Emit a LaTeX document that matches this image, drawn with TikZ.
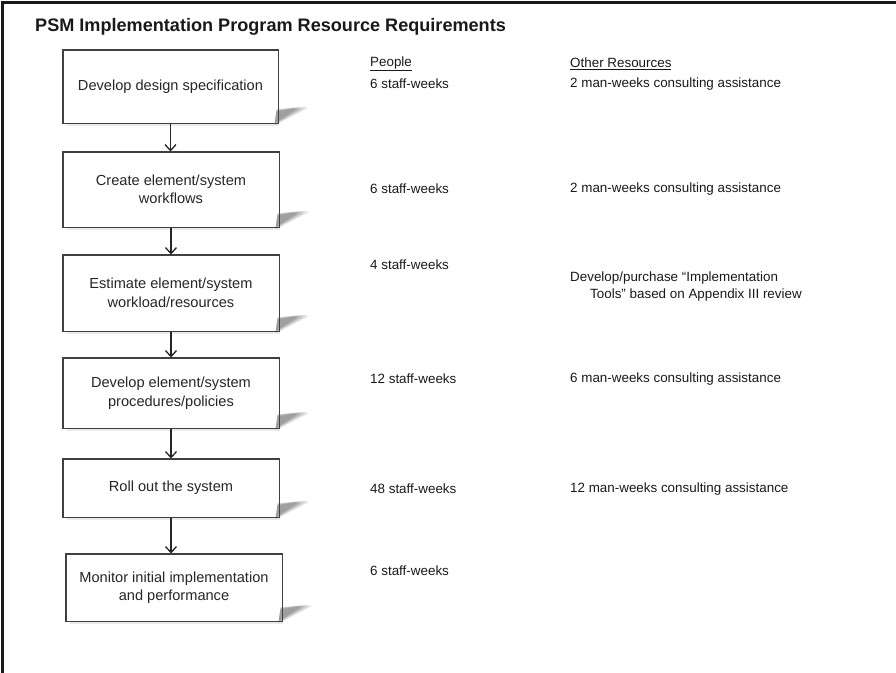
\documentclass[tikz,border=0pt]{standalone}
\usepackage{fontspec}
\setmainfont{Liberation Sans}
\usetikzlibrary{arrows.meta}
\tikzset{
  stepbox/.style={draw=black!75, line width=1pt, fill=white, text=black!85,
    align=center, font=\fontsize{14.6}{18.5}\selectfont, inner sep=0pt},
  flow/.style={draw=black!85, line width=1.4pt, -{Straight Barb[length=6pt,width=11pt,line width=1.3pt]}},
  coltext/.style={anchor=west, text=black!90, font=\fontsize{13.4}{17}\selectfont, inner sep=0pt},
}
% soft drop shadow at the lower right of a box, built from stacked translucent wedges
\newcommand{\boxshadow}[1]{%
  \foreach \k/\g in {0/0.08,1/0.08,2/0.09,3/0.10,4/0.10}{
    \path[fill=black, opacity=\g]
      ([xshift=-4pt,yshift=-1pt]#1.south east)
      -- ([xshift=-2pt,yshift={12pt+0.6pt*\k}]#1.south east)
      -- ([xshift={27pt-3pt*\k},yshift={17pt-0.3pt*\k}]#1.south east)
      -- ([xshift={29pt-3pt*\k},yshift={15pt-0.3pt*\k}]#1.south east)
      -- ([xshift=-2pt,yshift={-1pt+0.6pt*\k}]#1.south east) -- cycle;
  }
  \path[fill=black, opacity=0.08] ([xshift=4pt]#1.south west) rectangle ([yshift=-2.5pt]#1.south east);
}
\begin{document}
\begin{tikzpicture}[x=1pt,y=-1pt]
\useasboundingbox (0,0) rectangle (896,672);
\begin{scope}
\clip (0,0) rectangle (896,672);
\draw[line width=2.5pt, black!90] (2.5,700) -- (2.5,2.5) -- (910,2.5);
\end{scope}

\node[anchor=west, inner sep=0pt, font=\bfseries\fontsize{18.1}{21}\selectfont, text=black!90] (title) at (35,27)
  {PSM Implementation Program Resource Requirements};

% flow boxes
\node[stepbox, minimum width=215pt, minimum height=73pt] (s1) at (170.5,86.5) {Develop design specification};
\node[stepbox, minimum width=216pt, minimum height=75pt] (s2) at (171,189.5) {Create element/system\\workflows};
\node[stepbox, minimum width=216pt, minimum height=76pt] (s3) at (171,293) {Estimate element/system\\workload/resources};
\node[stepbox, minimum width=216pt, minimum height=70pt] (s4) at (171,393) {Develop element/system\\procedures/policies};
\node[stepbox, minimum width=216pt, minimum height=58pt] (s5) at (171,488) {Roll out the system};
\node[stepbox, minimum width=216pt, minimum height=67pt] (s6) at (174,587.5) {Monitor initial implementation\\and performance};

\foreach \n in {s1,s2,s3,s4,s5,s6} { \boxshadow{\n} }
% redraw box outlines above their shadows
\foreach \n in {s1,s2,s3,s4,s5,s6} { \draw[black!75, line width=1pt] (\n.north west) rectangle (\n.south east); }

% connectors
\draw[flow] (s1.south) -- (s1.south |- s2.north);
\draw[flow] (s2.south) -- (s2.south |- s3.north);
\draw[flow] (s3.south) -- (s3.south |- s4.north);
\draw[flow] (s4.south) -- (s4.south |- s5.north);
\draw[flow] (s5.south) -- (s5.south |- s6.north);

% resource columns
\node[coltext] (hp) at (370,64) {\underline{People}};
\node[coltext] (ho) at (570,64) {\underline{Other Resources}};
\node[coltext] (p1) at (370,84) {6 staff-weeks};
\node[coltext] (o1) at (570,84) {2 man-weeks consulting assistance};
\node[coltext] (p2) at (370,189) {6 staff-weeks};
\node[coltext] (o2) at (570,189) {2 man-weeks consulting assistance};
\node[coltext] (p3) at (370,265) {4 staff-weeks};
\node[coltext, align=left] (o3) at (570,287) {Develop/purchase “Implementation\\\hspace*{20pt}Tools” based on Appendix III review};
\node[coltext] (p4) at (370,379) {12 staff-weeks};
\node[coltext] (o4) at (570,379) {6 man-weeks consulting assistance};
\node[coltext] (p5) at (370,489) {48 staff-weeks};
\node[coltext] (o5) at (570,489) {12 man-weeks consulting assistance};
\node[coltext] (p6) at (370,571) {6 staff-weeks};
\end{tikzpicture}
\end{document}
